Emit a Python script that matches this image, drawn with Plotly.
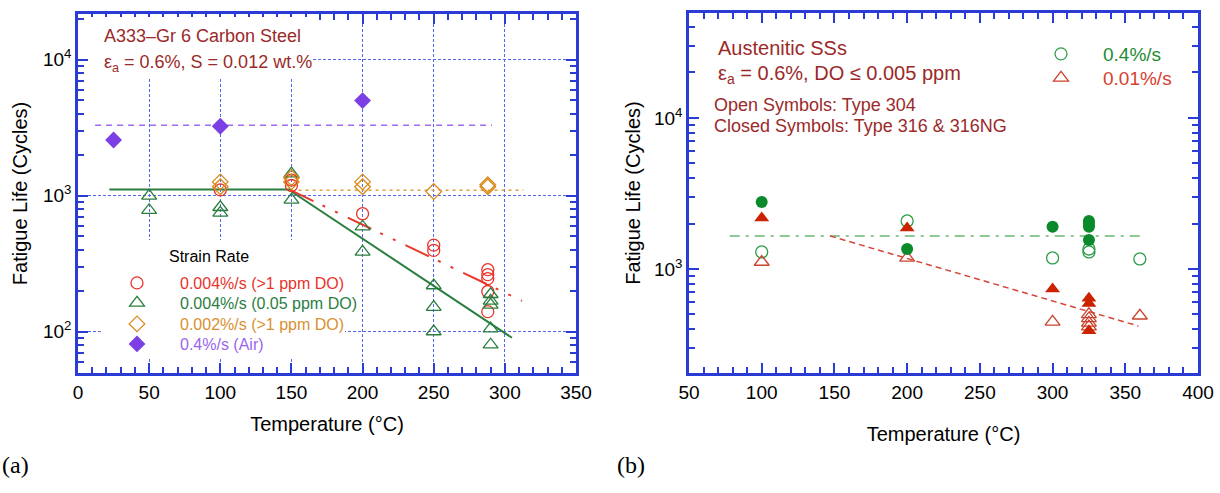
import plotly.graph_objects as go

# ---------------- data: panel (a) ----------------
red_T = [100, 150, 150, 200, 250, 250, 288, 288, 288, 288, 288]
red_N = [1100, 1300, 1185, 735, 432, 395, 285, 262, 245, 197, 140]

green_T = [50, 50, 100, 100, 150, 150, 200, 200, 250, 250, 250, 290, 290, 290, 290, 290]
green_N = [995, 780, 820, 745, 1450, 930, 590, 385, 218, 151, 100, 188, 168, 157, 105, 80]

orange_T = [100, 100, 150, 150, 200, 200, 250, 288, 288]
orange_N = [1260, 1160, 1350, 1260, 1260, 1160, 1070, 1200, 1160]

air_T = [25, 100, 200]
air_N = [2560, 3230, 4990]

air_line_T = [12, 291]
air_line_N = [3290, 3290]
orange_line_T = [155, 313]
orange_line_N = [1095, 1095]
green_flat_T = [22, 150]
green_flat_N = [1106, 1106]
green_trend_T = [150, 305]
green_trend_N = [1070, 90]
red_trend_T = [149, 312]
red_trend_N = [1100, 168]

# ---------------- data: panel (b) ----------------
g_closed_T = [100, 200, 300, 325, 325, 325, 325]
g_closed_N = [2780, 1356, 1900, 2080, 1990, 1900, 1556]
g_open_T = [100, 200, 300, 325, 325, 360]
g_open_N = [1296, 2080, 1183, 1356, 1296, 1165]
r_closed_T = [100, 200, 300, 325, 325, 325]
r_closed_N = [2177, 1870, 737, 640, 590, 390]
r_open_T = [100, 200, 300, 325, 325, 325, 325, 360]
r_open_N = [1112, 1183, 446, 500, 470, 440, 415, 490]

b_green_line_T = [78, 363]
b_green_line_N = [1654, 1654]
b_red_line_T = [147, 359]
b_red_line_N = [1654, 419]

xa_ticks = [0, 50, 100, 150, 200, 250, 300, 350]
xb_ticks = [50, 100, 150, 200, 250, 300, 350, 400]
ya_ticks = [100, 1000, 10000]
yb_ticks = [1000, 10000]
y_ticktext = {100: "10<sup>2</sup>", 1000: "10<sup>3</sup>", 10000: "10<sup>4</sup>"}

W, H = 1220, 493
def px(x):
    return x / W
def py(y):
    return 1 - y / H

AXC = "#2b3bd6"
GRIDC = "#5468ee"
FONT = "Liberation Sans, Arial, sans-serif"
DARKRED = "#9b2a2a"

fig = go.Figure()

# ----- panel (a) lines -----
fig.add_trace(go.Scatter(x=air_line_T, y=air_line_N, mode="lines", showlegend=False,
                         line=dict(color="#9b6cf0", width=1.5, dash="6px,5px"), xaxis="x", yaxis="y"))
fig.add_trace(go.Scatter(x=orange_line_T, y=orange_line_N, mode="lines", showlegend=False,
                         line=dict(color="#e0a040", width=1.5, dash="3px,4px"), xaxis="x", yaxis="y"))
fig.add_trace(go.Scatter(x=green_flat_T, y=green_flat_N, mode="lines", showlegend=False,
                         line=dict(color="#2a7e3f", width=2), xaxis="x", yaxis="y"))
fig.add_trace(go.Scatter(x=green_trend_T, y=green_trend_N, mode="lines", showlegend=False,
                         line=dict(color="#2a7e3f", width=2), xaxis="x", yaxis="y"))
fig.add_trace(go.Scatter(x=red_trend_T, y=red_trend_N, mode="lines", showlegend=False,
                         line=dict(color="#e8392b", width=2, dash="26px,10px,3px,11px,3px,11px"),
                         xaxis="x", yaxis="y"))

# ----- panel (a) markers (each with its own legend row) -----
fig.add_trace(go.Scatter(x=red_T, y=red_N, mode="markers", legend="legend",
                         name='<span style="color:#e8332a">0.004%/s (&gt;1 ppm DO)</span>',
                         marker=dict(symbol="circle-open", size=12, color="#e8332a",
                                     line=dict(color="#e8332a", width=1.3)), xaxis="x", yaxis="y"))
fig.add_trace(go.Scatter(x=green_T, y=green_N, mode="markers", legend="legend2",
                         name='<span style="color:#2a7e3f">0.004%/s (0.05 ppm DO)</span>',
                         marker=dict(symbol="triangle-up-open", size=13, color="#2a7e3f",
                                     line=dict(color="#2a7e3f", width=1.3)), xaxis="x", yaxis="y"))
fig.add_trace(go.Scatter(x=orange_T, y=orange_N, mode="markers", legend="legend3",
                         name='<span style="color:#d99030">0.002%/s (&gt;1 ppm DO)</span>',
                         marker=dict(symbol="diamond-open", size=12, color="#d98a1a",
                                     line=dict(color="#d98a1a", width=1.3)), xaxis="x", yaxis="y"))
fig.add_trace(go.Scatter(x=air_T, y=air_N, mode="markers", legend="legend4",
                         name='<span style="color:#9a66ee">0.4%/s (Air)</span>',
                         marker=dict(symbol="diamond", size=13, color="#7b3fe4"), xaxis="x", yaxis="y"))

# ----- panel (b) lines -----
fig.add_trace(go.Scatter(x=b_green_line_T, y=b_green_line_N, mode="lines", showlegend=False,
                         line=dict(color="#6ab872", width=1.5, dash="10px,6px,3px,6px"), xaxis="x2", yaxis="y2"))
fig.add_trace(go.Scatter(x=b_red_line_T, y=b_red_line_N, mode="lines", showlegend=False,
                         line=dict(color="#d6453a", width=1.5, dash="6px,4px"), xaxis="x2", yaxis="y2"))

# ----- panel (b) markers -----
fig.add_trace(go.Scatter(x=g_open_T, y=g_open_N, mode="markers", legend="legend5",
                         name='<span style="color:#1e8c32">0.4%/s</span>',
                         marker=dict(symbol="circle-open", size=12, color="#2f9d48",
                                     line=dict(color="#2f9d48", width=1.3)), xaxis="x2", yaxis="y2"))
fig.add_trace(go.Scatter(x=r_open_T, y=r_open_N, mode="markers", legend="legend6",
                         name='<span style="color:#d5402f">0.01%/s</span>',
                         marker=dict(symbol="triangle-up-open", size=13, color="#c9432f",
                                     line=dict(color="#c9432f", width=1.3)), xaxis="x2", yaxis="y2"))
fig.add_trace(go.Scatter(x=g_closed_T, y=g_closed_N, mode="markers", showlegend=False,
                         marker=dict(symbol="circle", size=12, color="#0b8a2b"), xaxis="x2", yaxis="y2"))
fig.add_trace(go.Scatter(x=r_closed_T, y=r_closed_N, mode="markers", showlegend=False,
                         marker=dict(symbol="triangle-up", size=13, color="#cc2200"), xaxis="x2", yaxis="y2"))

def minor_log(lo, hi):
    vals = []
    d = 1
    while d < hi * 10:
        for m in range(2, 10):
            v = m * d
            if lo < v < hi:
                vals.append(v)
        d *= 10
    return vals

common_axis = dict(showline=True, linecolor=AXC, linewidth=2.5, mirror="allticks",
                   ticks="inside", tickcolor=AXC, tickwidth=2, ticklen=10,
                   tickfont=dict(family=FONT, size=19, color="black"),
                   zeroline=False, automargin=False)

def row_legend(xpix, ypix, size, iw):
    return dict(x=px(xpix), y=py(ypix), xanchor="left", yanchor="middle", bgcolor="rgba(0,0,0,0)",
                font=dict(family=FONT, size=size), itemwidth=iw, tracegroupgap=0)

fig.update_layout(
    width=W, height=H, margin=dict(l=0, r=0, t=0, b=0, autoexpand=False),
    paper_bgcolor="white", plot_bgcolor="white",
    font=dict(family=FONT, color="black"),
    xaxis=dict(domain=[px(78), px(576)], range=[0, 350], anchor="y",
               tickmode="array", tickvals=xa_ticks,
               showgrid=True, gridcolor=GRIDC, gridwidth=1.3, griddash="3px,2px",
               minor=dict(dtick=10, ticks="inside", ticklen=6, tickcolor=AXC, tickwidth=1.5, showgrid=False),
               title=dict(text="Temperature (°C)", font=dict(size=20), standoff=16),
               **common_axis),
    yaxis=dict(domain=[py(373), py(14)], type="log", range=[1.695, 4.335], anchor="x",
               tickmode="array", tickvals=ya_ticks, ticktext=[y_ticktext[v] for v in ya_ticks],
               showgrid=True, gridcolor=GRIDC, gridwidth=1.3, griddash="3px,2px",
               minor=dict(tickmode="array", tickvals=minor_log(49.5, 21600), ticks="inside",
                          ticklen=6, tickcolor=AXC, tickwidth=1.5, showgrid=False),
               title=dict(text="Fatigue Life (Cycles)", font=dict(size=20), standoff=10),
               **common_axis),
    xaxis2=dict(domain=[px(689), px(1198)], range=[50, 400], anchor="y2",
                tickmode="array", tickvals=xb_ticks, showgrid=False,
                minor=dict(dtick=10, ticks="inside", ticklen=6, tickcolor=AXC, tickwidth=1.5, showgrid=False),
                title=dict(text="Temperature (°C)", font=dict(size=20), standoff=26),
                **common_axis),
    yaxis2=dict(domain=[py(373), py(13)], type="log", range=[2.311, 4.695], anchor="x2",
                tickmode="array", tickvals=yb_ticks, ticktext=[y_ticktext[v] for v in yb_ticks],
                showgrid=False,
                minor=dict(tickmode="array", tickvals=minor_log(205, 49500), ticks="inside",
                           ticklen=6, tickcolor=AXC, tickwidth=1.5, showgrid=False),
                title=dict(text="Fatigue Life (Cycles)", font=dict(size=20), standoff=8),
                **common_axis),
    legend=row_legend(94, 283, 16, 76),
    legend2=row_legend(94, 303, 16, 76),
    legend3=row_legend(94, 324, 16, 76),
    legend4=row_legend(94, 344, 16, 76),
    legend5=row_legend(1019, 54, 19, 74),
    legend6=row_legend(1019, 78, 19, 74),
    shapes=[
        dict(type="rect", xref="paper", yref="paper", x0=px(88), x1=px(312), y0=py(78), y1=py(17),
             fillcolor="white", line=dict(width=0), layer="above"),
        dict(type="rect", xref="paper", yref="paper", x0=px(103), x1=px(345), y0=py(357), y1=py(240),
             fillcolor="white", line=dict(width=0), layer="above"),
    ],
    annotations=[
        dict(text="A333–Gr 6 Carbon Steel", x=px(102), y=py(36), xref="paper", yref="paper",
             xanchor="left", yanchor="middle", showarrow=False, font=dict(size=18, color=DARKRED)),
        dict(text="ε<sub>a</sub> = 0.6%, S = 0.012 wt.%", x=px(102), y=py(63), xref="paper", yref="paper",
             xanchor="left", yanchor="middle", showarrow=False, font=dict(size=18, color=DARKRED)),
        dict(text="Strain Rate", x=px(209), y=py(256), xref="paper", yref="paper",
             xanchor="center", yanchor="middle", showarrow=False, font=dict(size=16, color="black")),
        dict(text="Austenitic SSs", x=px(716), y=py(48), xref="paper", yref="paper",
             xanchor="left", yanchor="middle", showarrow=False, font=dict(size=20, color=DARKRED)),
        dict(text="ε<sub>a</sub> = 0.6%, DO ≤ 0.005 ppm", x=px(716), y=py(75), xref="paper", yref="paper",
             xanchor="left", yanchor="middle", showarrow=False, font=dict(size=20, color=DARKRED)),
        dict(text="Open Symbols: Type 304", x=px(712), y=py(105), xref="paper", yref="paper",
             xanchor="left", yanchor="middle", showarrow=False, font=dict(size=18, color=DARKRED)),
        dict(text="Closed Symbols: Type 316 &amp; 316NG", x=px(712), y=py(126), xref="paper", yref="paper",
             xanchor="left", yanchor="middle", showarrow=False, font=dict(size=18, color=DARKRED)),
        dict(text="(a)", x=px(0), y=py(465), xref="paper", yref="paper",
             xanchor="left", yanchor="middle", showarrow=False,
             font=dict(family="Liberation Serif, Times New Roman, serif", size=24, color="black")),
        dict(text="(b)", x=px(615), y=py(465), xref="paper", yref="paper",
             xanchor="left", yanchor="middle", showarrow=False,
             font=dict(family="Liberation Serif, Times New Roman, serif", size=24, color="black")),
    ],
)

fig.write_html("out.html")
